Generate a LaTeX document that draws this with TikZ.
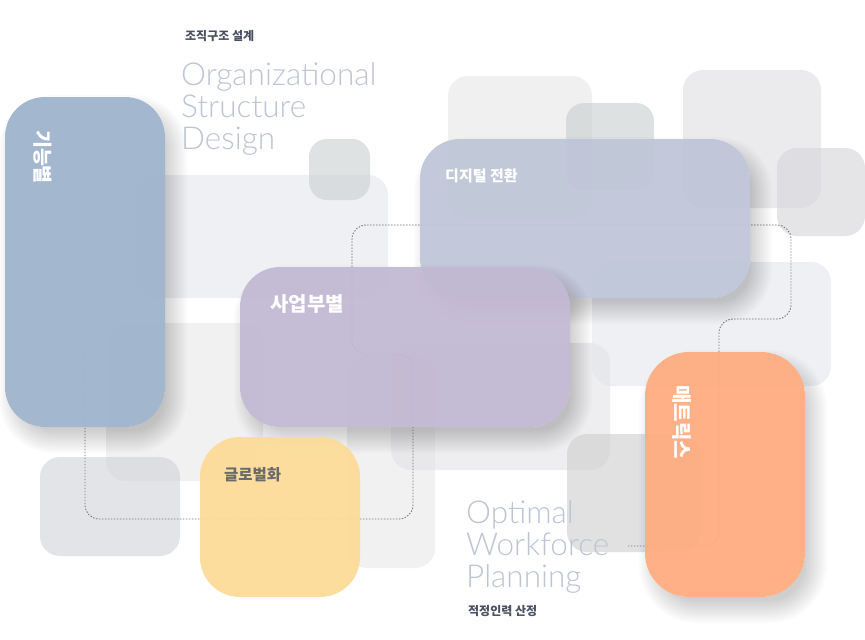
\documentclass[tikz,border=0pt]{standalone}
\usepackage{fontspec}
\newfontfamily\kr{Noto Sans CJK KR}
\newfontfamily\engfont{Lato Light}
\definecolor{cblue}{RGB}{156,178,203}
\definecolor{cdig}{RGB}{190,197,215}
\definecolor{clav}{RGB}{193,184,210}
\definecolor{cyel}{RGB}{252,219,150}
\definecolor{cora}{RGB}{255,170,125}
\definecolor{engc}{RGB}{190,196,209}
\definecolor{titc}{RGB}{74,80,96}
\definecolor{gltxt}{RGB}{106,106,106}
\definecolor{ga}{RGB}{228,230,235}
\definecolor{gb}{RGB}{202,207,208}
\definecolor{gc}{RGB}{230,230,230}
\definecolor{gd}{RGB}{200,205,208}
\definecolor{ge}{RGB}{222,223,227}
\definecolor{gf}{RGB}{212,213,218}
\definecolor{gg}{RGB}{228,230,235}
\definecolor{gh}{RGB}{227,227,230}
\definecolor{gi}{RGB}{205,205,205}
\definecolor{gj}{RGB}{208,210,215}
\definecolor{gk}{RGB}{232,232,232}
\definecolor{gl}{RGB}{232,232,232}
% soft shadow outside a rounded box: x1,y1,x2,y2,radius
\newcommand\mysoftshadow[5]{%
  \begin{scope}[even odd rule, rounded corners=#5pt]
    \clip (-50,-50) rectangle (915,690) (#1,#2) rectangle (#3,#4);
    \foreach \k in {0,...,11}{%
      \pgfmathsetmacro\e{-8+2*\k}%
      \pgfmathsetmacro\rr{max(#5+\e,1)}%
      \fill[black, fill opacity=0.014, rounded corners=\rr pt]
        ({#1-\e+8},{#2-\e+12}) rectangle ({#3+\e+8},{#4+\e+12});
    }
  \end{scope}}
\begin{document}
\begin{tikzpicture}[x=1pt,y=-1pt,
  greybox/.style={fill opacity=0.6, rounded corners=20pt},
  cbox/.style={draw=none, inner sep=0pt, outer sep=0pt, fill opacity=0.92},
  dotline/.style={draw=black!55, line width=0.9pt, dash pattern=on 1.4pt off 1.6pt, rounded corners=14pt},
  eng/.style={inner sep=0pt, anchor=base west, text=engc, font=\engfont\fontsize{31.5}{32}\selectfont},
  ttl/.style={inner sep=0pt, anchor=west, text=titc, font=\kr\bfseries\fontsize{12}{12}\selectfont},
  lbl/.style={inner sep=0pt, text=white, font=\kr\bfseries}
]
\useasboundingbox (0,0) rectangle (865,640);
\fill[white] (0,0) rectangle (865,640);

% grey background shapes
\path[greybox, fill=ga] (135,175) rectangle (388,298);
\path[greybox, fill=gk] (106,323) rectangle (263,481);
\path[greybox, fill=gl] (347,355) rectangle (435,568);
\path[greybox, fill=gj] (40,457) rectangle (180,556);
\path[greybox, fill=gc] (448,76) rectangle (592,219);
\path[greybox, fill=gd, rounded corners=18pt] (566,103) rectangle (654,190);
\path[greybox, fill=gb, rounded corners=18pt] (309,139) rectangle (370,200);
\path[greybox, fill=ge] (683,70) rectangle (821,208);
\path[greybox, fill=gf] (777,148) rectangle (865,236);
\path[greybox, fill=gg] (592,262) rectangle (831,386);
\path[greybox, fill=gh] (391,343) rectangle (610,470);
\path[greybox, fill=gi] (567,434) rectangle (700,552);

% dotted connector path
\draw[dotline] (628,546) -- (719,546) -- (719,319) -- (791,319) -- (791,225)
  -- (352,225) -- (352,354) -- (413,354) -- (413,519) -- (85,519) -- (85,347);

% coloured boxes with soft shadows
\mysoftshadow{5}{97}{165}{427}{40}
\node[cbox, fill=cblue, minimum width=160pt, minimum height=330pt, rounded corners=40pt] (func) at (85,262) {};
\mysoftshadow{420}{139}{750}{298}{40}
\node[cbox, fill=cdig, minimum width=330pt, minimum height=159pt, rounded corners=40pt] (digi) at (585,218.5) {};
\mysoftshadow{240}{267}{570}{427}{40}
\node[cbox, fill=clav, minimum width=330pt, minimum height=160pt, rounded corners=40pt] (biz) at (405,347) {};
\node[cbox, fill=cyel, minimum width=160pt, minimum height=160pt, rounded corners=40pt] (glob) at (280,517) {};
\mysoftshadow{645}{352}{805}{597}{44}
\node[cbox, fill=cora, minimum width=160pt, minimum height=245pt, rounded corners=44pt] (matx) at (725,474.5) {};

% labels
\node[lbl, font=\kr\bfseries\fontsize{19.5}{20}\selectfont, rotate=-90] (funct) at (43,157) {기능별};
\node[lbl, font=\kr\bfseries\fontsize{15}{15}\selectfont, anchor=west] (digit) at (445,176) {디지털 전환};
\node[lbl, font=\kr\bfseries\fontsize{20}{20}\selectfont, anchor=west] (bizt) at (270,304) {사업부별};
\node[lbl, text=gltxt, font=\kr\bfseries\fontsize{15.5}{16}\selectfont, anchor=west] (globt) at (224,474.5) {글로벌화};
\node[lbl, font=\kr\bfseries\fontsize{20}{20}\selectfont, rotate=-90] (matxt) at (682,422) {매트릭스};

% titles
\node[ttl] (t1) at (185,36) {조직구조 설계};
\node[eng] (e1) at (181,85) {Organizational};
\node[eng] (e2) at (181,117) {Structure};
\node[eng] (e3) at (181,149) {Design};
\node[eng] (e4) at (466,523) {Optimal};
\node[eng] (e5) at (466,555) {Workforce};
\node[eng] (e6) at (466,587) {Planning};
\node[ttl] (t2) at (468,611) {적정인력 산정};
\end{tikzpicture}
\end{document}
